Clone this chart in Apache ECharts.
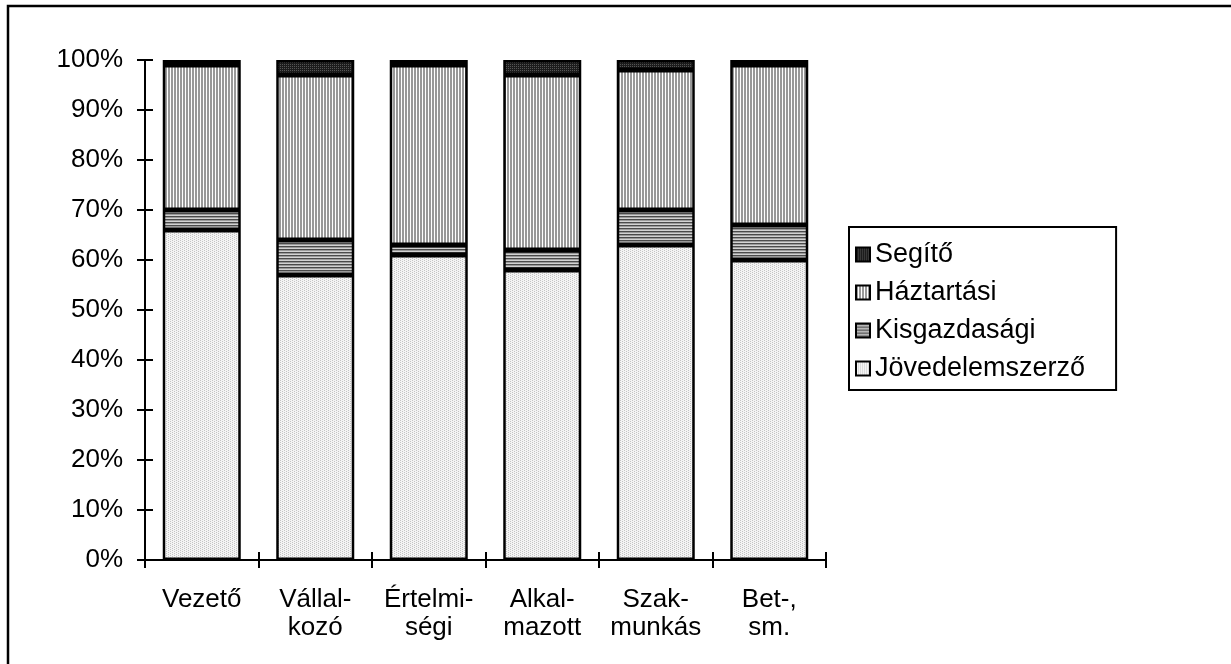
<!DOCTYPE html>
<html>
<head>
<meta charset="utf-8">
<script src="https://cdn.jsdelivr.net/npm/echarts@6/dist/echarts.min.js"></script>
<style>
html, body { margin: 0; padding: 0; background: #fff; }
#chart { width: 1231px; height: 664px; }
</style>
</head>
<body>
<div id="chart"></div>
<script>
// adatok
var categories = ['Vezető', 'Vállal-\nkozó', 'Értelmi-\nségi', 'Alkal-\nmazott', 'Szak-\nmunkás', 'Bet-,\nsm.'];
var jovedelemszerzo = [66, 57, 61, 58, 63, 60];
var kisgazdasagi = [4, 7, 2, 4, 7, 7];
var haztartasi = [29, 33, 36, 35, 28, 32];
var segito = [1, 3, 1, 3, 2, 1];
var yTicks = [0, 100, 10];

// mintazat keszitese canvas-bol
function pattern(w, h, draw) {
	var c = document.createElement('canvas');
	c.width = w;
	c.height = h;
	draw(c.getContext('2d'));
	return { image: c, repeat: 'repeat' };
}

var patJov = pattern(4, 4, function(ctx) {
	ctx.fillStyle = '#f4f4f4';
	ctx.fillRect(0, 0, 4, 4);
	ctx.fillStyle = '#c4c4c4';
	ctx.fillRect(0, 0, 1, 1);
	ctx.fillRect(2, 1, 1, 1);
	ctx.fillRect(0, 2, 1, 1);
	ctx.fillRect(2, 3, 1, 1);
});
var patKisg = pattern(1, 3, function(ctx) {
	ctx.fillStyle = '#4a4a4a';
	ctx.fillRect(0, 0, 1, 1);
	ctx.fillStyle = '#9a9a9a';
	ctx.fillRect(0, 1, 1, 1);
	ctx.fillStyle = '#d2d2d2';
	ctx.fillRect(0, 2, 1, 1);
});
var patHazt = pattern(3, 1, function(ctx) {
	ctx.fillStyle = '#999999';
	ctx.fillRect(0, 0, 2, 1);
	ctx.fillStyle = '#ffffff';
	ctx.fillRect(2, 0, 1, 1);
});
var patSeg = pattern(2, 2, function(ctx) {
	ctx.fillStyle = '#1c1c1c';
	ctx.fillRect(0, 0, 2, 2);
	ctx.fillStyle = '#555555';
	ctx.fillRect(0, 0, 1, 1);
});

function barSeries(name, data, pat) {
	return {
		name: name,
		type: 'bar',
		stack: 'all',
		barWidth: 78,
		data: data,
		itemStyle: { color: pat, borderColor: '#000', borderWidth: 2.5 },
		emphasis: { disabled: true }
	};
}

var font = 'Liberation Sans, Arial, sans-serif';
var tickStyle = { color: '#000', width: 2 };

var chart = echarts.init(document.getElementById('chart'), null, { renderer: 'canvas' });
var option = {
	animation: false,
	backgroundColor: '#fff',
	textStyle: { fontFamily: font, color: '#000' },
	grid: { left: 145, right: 405, top: 60, bottom: 104 },
	graphic: [{
		type: 'polyline',
		shape: { points: [[8, 700], [8, 6], [1240, 6]] },
		style: { stroke: '#000', lineWidth: 2.5, fill: null }
	}],
	legend: {
		orient: 'vertical',
		left: 849,
		top: 227,
		padding: [14, 31, 8, 6],
		icon: 'rect',
		itemWidth: 14,
		itemHeight: 14,
		itemGap: 11,
		itemTextGap: 4,
		borderColor: '#000',
		borderWidth: 2,
		backgroundColor: '#fff',
		selectedMode: false,
		data: ['Segítő', 'Háztartási', 'Kisgazdasági', 'Jövedelemszerző'],
		textStyle: { fontSize: 27, color: '#000', fontFamily: font }
	},
	xAxis: [{
		type: 'category',
		data: categories,
		axisLine: { lineStyle: { color: '#000', width: 2 } },
		axisTick: { show: false },
		axisLabel: { interval: 0, fontSize: 26, color: '#000', lineHeight: 28, margin: 26, fontFamily: font }
	}, {
		// atmeno beosztasjelek
		type: 'category',
		data: categories,
		position: 'bottom',
		offset: -8,
		axisLine: { show: false },
		axisTick: { show: true, interval: 0, length: 16, lineStyle: tickStyle },
		axisLabel: { show: false }
	}],
	yAxis: [{
		type: 'value',
		min: yTicks[0],
		max: yTicks[1],
		interval: yTicks[2],
		axisLine: { show: true, lineStyle: { color: '#000', width: 2 } },
		axisTick: { show: false },
		splitLine: { show: false },
		axisLabel: { formatter: '{value}%', fontSize: 26, color: '#000', margin: 22, fontFamily: font }
	}, {
		type: 'value',
		position: 'left',
		offset: -8,
		min: yTicks[0],
		max: yTicks[1],
		interval: yTicks[2],
		axisLine: { show: false },
		axisTick: { show: true, length: 16, lineStyle: tickStyle },
		splitLine: { show: false },
		axisLabel: { show: false }
	}],
	series: [
		barSeries('Jövedelemszerző', jovedelemszerzo, patJov),
		barSeries('Kisgazdasági', kisgazdasagi, patKisg),
		barSeries('Háztartási', haztartasi, patHazt),
		barSeries('Segítő', segito, patSeg)
	]
};
chart.setOption(option);
</script>
</body>
</html>
